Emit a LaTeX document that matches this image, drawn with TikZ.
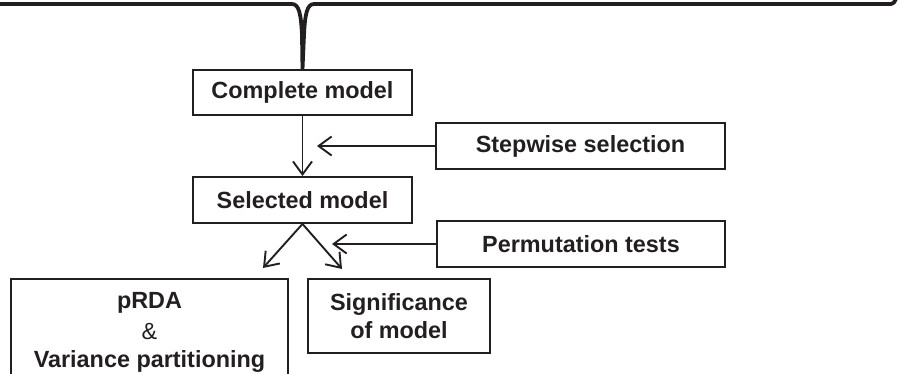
\documentclass[tikz,border=0pt]{standalone}
\usepackage{fontspec}
\setmainfont{Liberation Sans}
\usetikzlibrary{arrows.meta}
\definecolor{ink}{HTML}{231F20}
\tikzset{
  box/.style={draw=ink, text=ink, line width=1.9pt, rectangle, inner sep=0pt, align=center,
    font=\fontsize{23.4}{29}\selectfont\bfseries},
  arr/.style={draw=ink, line width=1.9pt, -{Straight Barb[length=13pt,width=19pt,line width=1.9pt]}},
  brace/.style={draw=ink, line width=3.8pt, line join=round, line cap=butt}
}
\begin{document}
\begin{tikzpicture}[x=1pt,y=-1pt]
\useasboundingbox (0,0) rectangle (910,374);
\clip (0,0) rectangle (910,374);
\node[box, minimum width=219pt, minimum height=45pt] (complete) at (302.5,92.5) {Complete model};
\node[box, minimum width=219pt, minimum height=46pt] (selected) at (302.5,200) {Selected model};
\node[box, minimum width=289pt, minimum height=46pt] (stepwise) at (580.5,146) {Stepwise selection};
\node[box, minimum width=288pt, minimum height=46pt] (perm) at (581,244) {Permutation tests};
\node[box, minimum width=277pt, minimum height=130pt, anchor=north, inner ysep=13pt] (prda) at (149.5,278)
  {pRDA\\[2pt]{\mdseries\&}\\[-1pt]Variance partitioning\\[30pt]};
\node[box, minimum width=182pt, minimum height=74pt] (sig) at (399,316) {Significance\\[-1pt]of model};
\coordinate (stepend) at (317,146);
\coordinate (permend) at (332,244);
\coordinate (leftend) at (263,268);
\coordinate (rightend) at (342,269);
\draw[brace] (0,4) -- (292,4) .. controls (299,4) and (301,14) .. (302,35)
  .. controls (302.7,52) .. (complete.north)
  .. controls (303.3,52) .. (304,35) .. controls (305,14) and (307,4) .. (314,4)
  -- (891,4) .. controls (893.5,4) and (894.5,2) .. (896,-1);
\draw[arr] (complete.south) -- (selected.north);
\draw[arr] (stepwise.west) -- (stepend);
\draw[arr] (perm.west) -- (permend);
\draw[arr] (selected.south) -- (leftend);
\draw[arr] (selected.south) -- (rightend);
\end{tikzpicture}
\end{document}
